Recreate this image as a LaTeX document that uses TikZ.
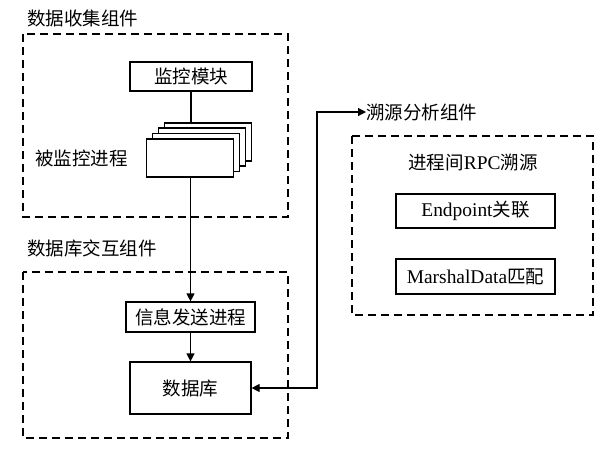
\documentclass[tikz,border=0pt]{standalone}
\usepackage{fontspec}
\setmainfont{Liberation Serif}[Scale=1.05]
\newfontfamily\cjk{Noto Sans CJK SC}
\usetikzlibrary{arrows.meta}
\newcommand{\zh}[1]{{\cjk #1}}
\tikzset{
  txt/.style={font=\fontsize{18.5}{22}\selectfont, inner sep=0pt},
  boxnode/.style={draw, line width=1.2pt, fill=white, txt, anchor=center},
  grp/.style={draw, line width=1.2pt, dash pattern=on 8pt off 5pt},
  conn/.style={line width=1.2pt},
  arr/.style={-{Triangle[length=8pt,width=8pt]}},
  barr/.style={{Triangle[length=8pt,width=8pt]}-{Triangle[length=8pt,width=8pt]}},
}
\begin{document}
\begin{tikzpicture}[x=1pt,y=-1pt]
\useasboundingbox (0,0) rectangle (600,451);
% group frames
\draw[grp] (23,34) rectangle (288,217);
\draw[grp] (23,272) rectangle (288,438);
\draw[grp] (352,136) rectangle (593,315);
% titles
\node[txt, anchor=west] (t1) at (27,18) {\zh{数据收集组件}};
\node[txt, anchor=west] (t2) at (27,248) {\zh{数据库交互组件}};
\node[txt, anchor=west] (t3) at (366,112) {\zh{溯源分析组件}};
\node[txt] (t4) at (473,162) {\zh{进程间}RPC\zh{溯源}};
\node[txt, anchor=west] (t5) at (35,158) {\zh{被监控进程}};
% boxes
\node[boxnode, minimum width=122pt, minimum height=29pt] (mon) at (191,76.5) {\zh{监控模块}};
\node[boxnode, minimum width=87pt, minimum height=38pt] (p4) at (208,142) {};
\node[boxnode, minimum width=87pt, minimum height=38pt] (p3) at (202,147) {};
\node[boxnode, minimum width=87pt, minimum height=38pt] (p2) at (196,152.5) {};
\node[boxnode, minimum width=87pt, minimum height=38pt] (p1) at (190,158) {};
\node[boxnode, minimum width=129pt, minimum height=30pt] (send) at (190.5,317) {\zh{信息发送进程}};
\node[boxnode, minimum width=121pt, minimum height=52pt] (db) at (190.5,388) {\zh{数据库}};
\node[boxnode, minimum width=159pt, minimum height=34pt] (ep) at (475.5,211) {Endpoint\zh{关联}};
\node[boxnode, minimum width=159pt, minimum height=35pt] (md) at (475.5,276.5) {MarshalData\zh{匹配}};
% connectors
\draw[conn] (mon.south) -- (mon.south |- p4.north);
\draw[conn, arr] (p1.south -| send.north) -- (send.north);
\draw[conn, arr] (send.south) -- (send.south -| db.north) -- (db.north);
\coordinate (bend) at (317,388);
\draw[conn, barr] (db.east) -- (bend) |- (t3.west);
\end{tikzpicture}
\end{document}
